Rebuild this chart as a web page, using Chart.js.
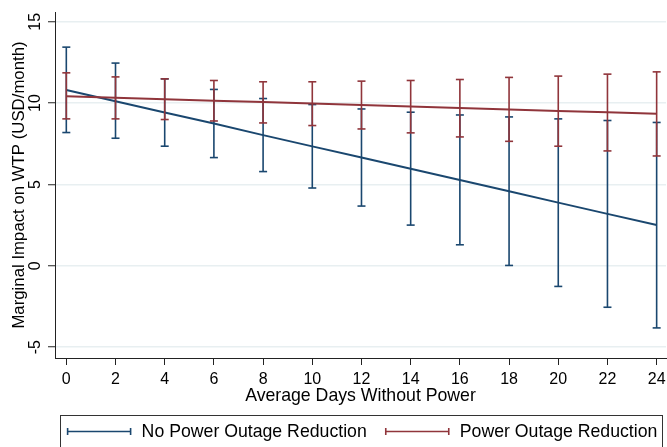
<!DOCTYPE html>
<html>
<head>
<meta charset="utf-8">
<script src="https://cdn.jsdelivr.net/npm/chart.js@4.4.0/dist/chart.umd.min.js"></script>
<style>
  html, body { margin: 0; padding: 0; background: #fff; overflow: hidden; }
  #wrap { position: relative; width: 667px; height: 447px; }
</style>
</head>
<body>
<div id="wrap"><canvas id="chart"></canvas></div>
<script>
const days = [0, 2, 4, 6, 8, 10, 12, 14, 16, 18, 20, 22, 24];

// No Power Outage Reduction
const noReductionFit  = [10.80, 10.11, 9.42, 8.74, 8.03, 7.34, 6.65, 5.96, 5.27, 4.58, 3.88, 3.19, 2.50];
const noReductionLow  = [8.19, 7.84, 7.35, 6.65, 5.79, 4.78, 3.67, 2.50, 1.29, 0.02, -1.27, -2.55, -3.82];
const noReductionHigh = [13.44, 12.46, 11.49, 10.84, 10.28, 9.91, 9.64, 9.44, 9.27, 9.15, 9.03, 8.93, 8.81];

// Power Outage Reduction
const reductionFit  = [10.42, 10.33, 10.24, 10.15, 10.06, 9.97, 9.88, 9.79, 9.70, 9.61, 9.52, 9.43, 9.34];
const reductionLow  = [9.03, 9.03, 8.99, 8.90, 8.78, 8.62, 8.41, 8.17, 7.92, 7.65, 7.35, 7.06, 6.75];
const reductionHigh = [11.86, 11.61, 11.49, 11.39, 11.31, 11.31, 11.35, 11.39, 11.45, 11.58, 11.66, 11.78, 11.92];

const yTicks = [-5, 0, 5, 10, 15];
const xTicks = days;

const navy = '#1a476f';
const maroon = '#90353b';
const axisColor = '#222';
const family = '"Liberation Sans", Arial, sans-serif';
const tickFont = { family: family, size: 16 };
// tall line height pushes x labels down without adding tick padding (which would shrink the plot)
const xTickFont = { family: family, size: 16, lineHeight: 1.8 };
const titleFont = { family: family, size: 17.7 };
const yTitleFont = { family: family, size: 16.8 };

// error bar: lo -> hi segments broken by a null point
function ciPoints(lo, hi) {
  const pts = [];
  days.forEach((d, i) => {
    pts.push({ x: d, y: lo[i] }, { x: d, y: hi[i] }, { x: d, y: null });
  });
  return pts;
}
function fitPoints(vals) {
  return days.map((d, i) => ({ x: d, y: vals[i] }));
}

function ciDataset(lo, hi, color) {
  return {
    data: ciPoints(lo, hi),
    borderColor: color,
    borderWidth: 1.6,
    spanGaps: false,
    pointStyle: 'line',
    pointRadius: 4,
    pointBorderWidth: 1.6,
    pointBorderColor: color,
    pointHoverRadius: 4
  };
}
function fitDataset(label, vals, color, legendOrder) {
  return {
    label: label,
    legendOrder: legendOrder,
    data: fitPoints(vals),
    borderColor: color,
    borderWidth: 2,
    pointRadius: 0,
    tension: 0
  };
}

// legend drawn the Stata way: boxed, rcap-style markers
const stataLegend = {
  id: 'stataLegend',
  afterDraw(chart) {
    const { ctx, chartArea } = chart;
    const items = chart.data.datasets
      .filter(ds => ds.label)
      .sort((a, b) => a.legendOrder - b.legendOrder);
    const markerW = 63, textGap = 11, itemGap = 19;
    ctx.save();
    ctx.font = titleFont.size + 'px ' + family;
    const widths = items.map(ds => ctx.measureText(ds.label).width);
    let total = 0;
    items.forEach((ds, i) => { total += markerW + textGap + widths[i] + (i ? itemGap : 0); });
    let x = (chartArea.left + chartArea.right) / 2 - total / 2 + 2;
    const y = 431.5;

    ctx.strokeStyle = '#333';
    ctx.lineWidth = 1;
    ctx.strokeRect(Math.round(x - 8) + 0.5, 415.5, Math.round(total + 12), 40);

    items.forEach((ds, i) => {
      ctx.strokeStyle = ds.borderColor;
      ctx.lineWidth = 1.6;
      ctx.beginPath();
      ctx.moveTo(x, y);
      ctx.lineTo(x + markerW, y);
      ctx.moveTo(x, y - 3.5);
      ctx.lineTo(x, y + 3.5);
      ctx.moveTo(x + markerW, y - 3.5);
      ctx.lineTo(x + markerW, y + 3.5);
      ctx.stroke();
      ctx.fillStyle = '#000';
      ctx.textBaseline = 'middle';
      ctx.textAlign = 'left';
      ctx.fillText(ds.label, x + markerW + textGap, y + 0.5);
      x += markerW + textGap + widths[i] + itemGap;
    });
    ctx.restore();
  }
};

const ctx = document.getElementById('chart').getContext('2d');
new Chart(ctx, {
  type: 'line',
  data: {
    datasets: [
      fitDataset('Power Outage Reduction', reductionFit, maroon, 2),
      ciDataset(reductionLow, reductionHigh, maroon),
      fitDataset('No Power Outage Reduction', noReductionFit, navy, 1),
      ciDataset(noReductionLow, noReductionHigh, navy)
    ]
  },
  options: {
    responsive: true,
    maintainAspectRatio: false,
    animation: false,
    devicePixelRatio: 1,
    layout: { autoPadding: false, padding: { top: 12, right: 1, bottom: 32, left: 0 } },
    plugins: {
      legend: { display: false },
      tooltip: { enabled: false }
    },
    scales: {
      x: {
        type: 'linear',
        min: -0.46,
        max: 24.38,
        afterFit: s => { s.height = 57; },
        afterBuildTicks: s => { s.ticks = xTicks.map(v => ({ value: v })); },
        border: { color: axisColor, width: 1 },
        grid: { drawOnChartArea: false, tickColor: axisColor, tickLength: 7, tickWidth: 1 },
        ticks: { color: '#000', font: xTickFont, padding: 0, maxRotation: 0, autoSkip: false },
        title: { display: true, text: 'Average Days Without Power', color: '#000', font: titleFont, padding: { top: 0, bottom: 8.5 } }
      },
      y: {
        min: -5.67,
        max: 15.6,
        afterFit: s => { s.width = 55; s.paddingTop = 0; s.paddingBottom = 0; },
        afterBuildTicks: s => { s.ticks = yTicks.map(v => ({ value: v })); },
        border: { color: axisColor, width: 1 },
        grid: { color: '#e8eff1', lineWidth: 1.5, tickColor: axisColor, tickLength: 7, tickWidth: 1 },
        ticks: { color: '#000', font: tickFont, padding: 4, minRotation: 90, maxRotation: 90, crossAlign: 'center' },
        title: { display: true, text: 'Marginal Impact on WTP (USD/month)', color: '#000', font: yTitleFont, padding: { top: 9, bottom: 0 } }
      }
    }
  },
  plugins: [stataLegend]
});
</script>
</body>
</html>
